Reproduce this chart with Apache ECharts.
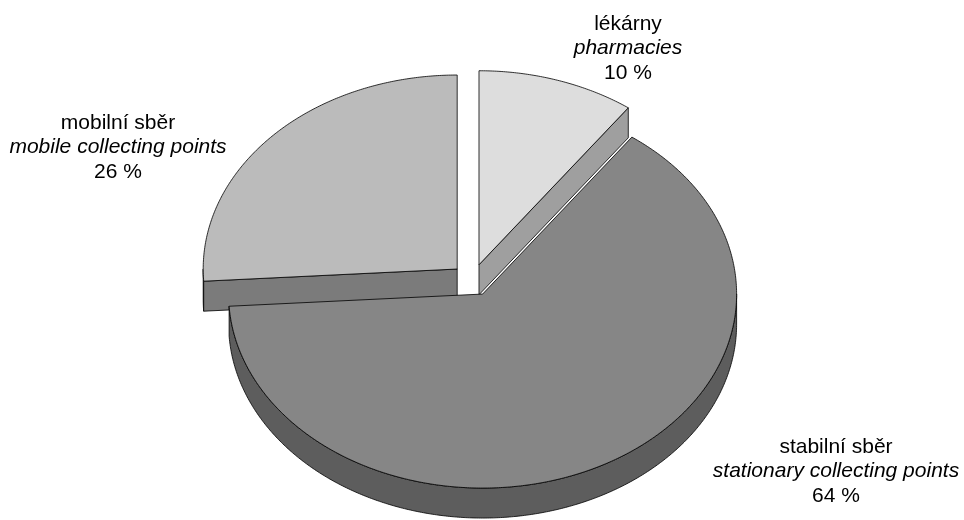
<!DOCTYPE html>
<html>
<head>
<meta charset="utf-8">
<script src="https://cdn.jsdelivr.net/npm/echarts@6/dist/echarts.min.js"></script>
<style>
  html, body { margin: 0; padding: 0; background: #fff; }
  #main { width: 964px; height: 520px; }
</style>
</head>
<body>
<div id="main"></div>
<script>
// ---- data ----
const namesCz = ['lékárny', 'stabilní sběr', 'mobilní sběr'];
const namesEn = ['pharmacies', 'stationary collecting points', 'mobile collecting points'];
const values = [10, 64, 26];

// ---- style / layout ----
const topColors = ['#dddddd', '#868686', '#bbbbbb'];
const sideColors = ['#9f9f9f', '#5d5d5d', '#7b7b7b'];
const paintOrder = [0, 2, 1]; // back-to-front painting rank per slice
const labelPos = [[628, 24], [836, 447], [118, 123]];
const lineGap = 24.5;
const fontSize = 21;

const CX = 472.5, CY = 280, RX = 254, RY = 194, DEPTH = 30, EXPLODE = 21;
const K = RY / RX;
const total = values.reduce((a, b) => a + b, 0);
const starts = [];
values.reduce((acc, v, i) => { starts[i] = acc; return acc + v; }, 0);

const chart = echarts.init(document.getElementById('main'));

function renderItem(params, api) {
  const i = params.dataIndex;
  const v = api.value(0);
  const t1 = starts[i] / total * 2 * Math.PI;
  const t2 = (starts[i] + v) / total * 2 * Math.PI;
  const mid = (t1 + t2) / 2;
  const sx = CX + EXPLODE * Math.sin(mid);
  const sy = CY - EXPLODE * K * Math.cos(mid);
  const P = (t, dz) => [sx + RX * Math.sin(t), sy - RY * Math.cos(t) + dz];
  const arc = (a, b, dz) => {
    const n = Math.max(2, Math.ceil(Math.abs(b - a) / (Math.PI / 360)));
    const pts = [];
    for (let j = 0; j <= n; j++) pts.push(P(a + (b - a) * j / n, dz));
    return pts;
  };
  const rank = paintOrder[i] * 10;
  const lineStyle = { stroke: '#000', lineWidth: 0.8 };
  const children = [];
  // outer wall (front half only)
  const a = Math.max(t1, Math.PI / 2), b = Math.min(t2, 3 * Math.PI / 2);
  if (a < b) {
    const pts = arc(a, b, 0).concat(arc(b, a, DEPTH));
    children.push({ type: 'polygon', z2: rank + 1, shape: { points: pts },
      style: Object.assign({ fill: sideColors[i] }, lineStyle) });
  }
  // radial faces
  const C0 = [sx, sy], C1 = [sx, sy + DEPTH];
  if (Math.sin(t1) < -1e-6) {
    children.push({ type: 'polygon', z2: rank + 2, shape: { points: [C0, P(t1, 0), P(t1, DEPTH), C1] },
      style: Object.assign({ fill: sideColors[i] }, lineStyle) });
  }
  if (Math.sin(t2) > 1e-6) {
    children.push({ type: 'polygon', z2: rank + 2, shape: { points: [C0, P(t2, 0), P(t2, DEPTH), C1] },
      style: Object.assign({ fill: sideColors[i] }, lineStyle) });
  }
  // top face
  children.push({ type: 'polygon', z2: rank + 5, shape: { points: [C0].concat(arc(t1, t2, 0)) },
    style: Object.assign({ fill: topColors[i] }, lineStyle) });
  return { type: 'group', children: children };
}

const font = '"Liberation Sans", Arial, Helvetica, sans-serif';
const labelElements = [];
values.forEach((v, i) => {
  const lines = [
    { text: namesCz[i], italic: false },
    { text: namesEn[i], italic: true },
    { text: v + ' %', italic: false }
  ];
  lines.forEach((ln, j) => {
    labelElements.push({
      type: 'text', x: labelPos[i][0], y: labelPos[i][1] + j * lineGap, z: 10,
      style: { text: ln.text, fill: '#000', font: (ln.italic ? 'italic ' : '') + fontSize + 'px ' + font,
        textAlign: 'center', textVerticalAlign: 'middle' }
    });
  });
});

chart.setOption({
  animation: false,
  backgroundColor: '#ffffff',
  series: [{
    type: 'custom',
    coordinateSystem: 'none',
    renderItem: renderItem,
    data: values.map(v => [v])
  }],
  graphic: labelElements
});
</script>
</body>
</html>
